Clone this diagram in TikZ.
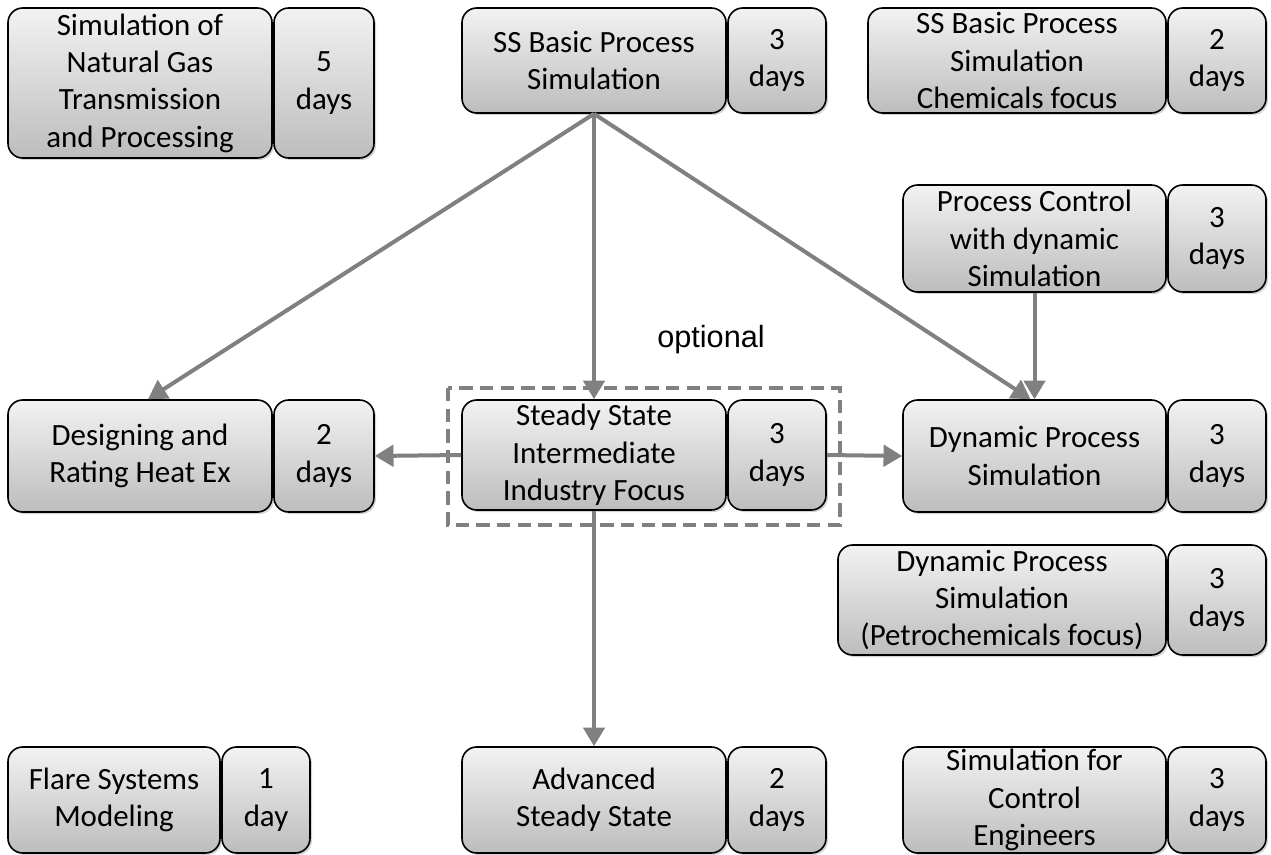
\documentclass[tikz,border=0pt]{standalone}
\usepackage{fontspec}
\setmainfont{Carlito}
\newfontfamily\optfont{Liberation Sans}
\usetikzlibrary{arrows.meta,shadows}
% one course: name, left x, split x, right x, top y, bottom y, title, length
\newcommand{\addcourse}[8]{%
  \node[coursebox, minimum width={(#3-#2)*0.75pt}, minimum height={(#6-#5)*0.75pt}]
    (#1) at ({(#2+#3)/2}, {(#5+#6)/2}) {#7};
  \node[coursebox, minimum width={(#4-#3-2)*0.75pt}, minimum height={(#6-#5)*0.75pt}]
    (#1-d) at ({(#3+2+#4)/2}, {(#5+#6)/2}) {#8};
}

\begin{document}
\begin{tikzpicture}[x=0.75pt, y=-0.75pt,
    coursebox/.style={draw=black, line width=1.2pt, rounded corners=11pt,
      top color=black!5, bottom color=black!26, align=center, inner sep=0pt,
      font=\fontsize{23.2}{28}\selectfont,
      drop shadow={shadow xshift=1.5pt, shadow yshift=-1.5pt, opacity=0.35}},
    link/.style={draw=black!50, line width=3pt, -{Triangle[width=16pt, length=14pt]}},
    optbox/.style={draw=black!50, line width=3pt, dash pattern=on 10pt off 5.5pt}]
  \useasboundingbox (0,0) rectangle (1271,855);

  %%%%% courses %%%%%
  \addcourse{simng}{8}{272}{374}{8}{158}{Simulation of\\Natural Gas\\Transmission\\and Processing}{5\\days}
  \addcourse{ssbasic}{462}{726}{826}{8}{113}{SS Basic Process\\Simulation}{3\\days}
  \addcourse{sschem}{868}{1166}{1266}{8}{113}{SS Basic Process\\Simulation\\Chemicals focus}{2\\days}
  \addcourse{pcontrol}{903}{1166}{1266}{185}{292}{Process Control\\with dynamic\\Simulation}{3\\days}

  \addcourse{heatex}{8}{272}{374}{400}{512}{Designing and\\Rating Heat Ex}{2\\days}
  \addcourse{ssi}{462}{726}{826}{400}{510}{Steady State\\Intermediate\\Industry Focus}{3\\days}
  \addcourse{dynamic}{903}{1166}{1266}{400}{512}{Dynamic Process\\Simulation}{3\\days}
  \addcourse{petro}{838}{1166}{1266}{545}{655}{Dynamic Process\\Simulation\\(Petrochemicals focus)}{3\\days}

  \addcourse{flare}{8}{220}{310}{747}{853}{Flare Systems\\Modeling}{1\\day}
  \addcourse{advanced}{462}{726}{826}{747}{853}{Advanced\\Steady State}{2\\days}
  \addcourse{control}{903}{1166}{1266}{747}{853}{Simulation for\\Control\\Engineers}{3\\days}

  %%%%% optional frame %%%%%
  \draw[optbox] (448,388) rectangle (840,525);
  \node[font=\optfont\fontsize{23}{27}\selectfont] (optlabel) at (711,340) {optional};

  %%%%% links %%%%%
  \draw[link] (ssbasic.south) -- ([xshift=6pt]heatex.north);
  \draw[link] (ssbasic.south) -- (ssi.north);
  \draw[link] (ssbasic.south) -- ([xshift=-3pt]dynamic.north);
  \draw[link] (pcontrol.south) -- (dynamic.north);
  \draw[link] (ssi.west) -- (heatex-d.east);
  \draw[link] (ssi-d.east) -- (dynamic.west);
  \draw[link] (ssi.south) -- (advanced.north);
\end{tikzpicture}
\end{document}
